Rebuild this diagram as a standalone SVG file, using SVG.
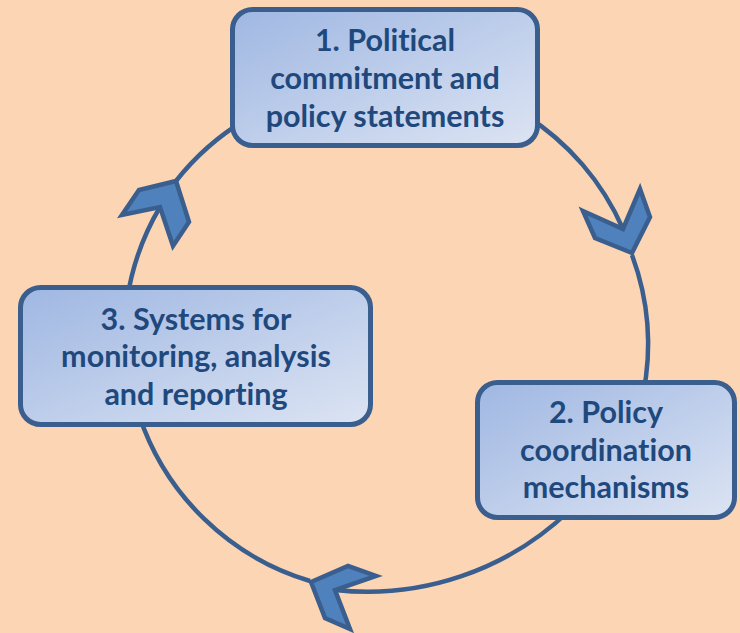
<svg xmlns="http://www.w3.org/2000/svg" width="740" height="633" viewBox="0 0 740 633">
  <style>
    .ring { fill: none; stroke: #3A5F8E; stroke-width: 4.5; }
    .chev { fill: #4F81BD; stroke: #3A5F8E; stroke-width: 4.5; stroke-linejoin: miter; }
    .box { fill: url(#boxFill); stroke: #3A5F8E; stroke-width: 5; }
    .label { font-family: Lato, "Liberation Sans", sans-serif; font-weight: bold; font-size: 30.5px; fill: #1F497D; text-anchor: middle; font-variant-ligatures: none; }
  </style>
  <defs>
    <linearGradient id="boxFill" x1="0" y1="0" x2="1" y2="1">
      <stop offset="0" stop-color="#9FB7E2"/>
      <stop offset="1" stop-color="#DCE4F3"/>
    </linearGradient>
  </defs>

  <rect width="740" height="633" fill="#FCD5B4"/>

  <!-- cycle connectors: arcs with chevron heads -->
  <g id="connectors">
    <path class="ring" d="M 525 115 A 256 256 0 0 1 623 229"/>
    <path class="ring" d="M 632 255 A 258 258 0 0 1 643 395"/>
    <path class="ring" d="M 570 510 A 292 292 0 0 1 335 590"/>
    <path class="ring" d="M 310 581 A 258 258 0 0 1 139 415"/>
    <path class="ring" d="M 127 300 A 258 258 0 0 1 160 207"/>
    <path class="ring" d="M 176 181 A 258 258 0 0 1 245 120"/>
    <polygon class="chev" points="583,211 623,229 640,189 650,217 632,253 595,238"/>
    <polygon class="chev" points="311,582 348,566 376,576 335,590 350,629 325,618"/>
    <polygon class="chev" points="176,181 139,190 122,215 160,207 173,246 189,222"/>
  </g>

  <g id="node1">
    <rect class="box" x="232.5" y="9.5" width="305" height="136" rx="20"/>
    <text class="label" x="385" y="51">1. Political</text>
    <text class="label" x="385" y="89">commitment and</text>
    <text class="label" x="385" y="127">policy statements</text>
  </g>

  <g id="node2">
    <rect class="box" x="477.5" y="382.5" width="257" height="135" rx="20"/>
    <text class="label" x="606" y="423">2. Policy</text>
    <text class="label" x="606" y="461">coordination</text>
    <text class="label" x="606" y="498">mechanisms</text>
  </g>

  <g id="node3">
    <rect class="box" x="20.5" y="287.5" width="350" height="137" rx="20"/>
    <text class="label" x="196" y="330">3. Systems for</text>
    <text class="label" x="196" y="367">monitoring, analysis</text>
    <text class="label" x="196" y="405">and reporting</text>
  </g>
</svg>
